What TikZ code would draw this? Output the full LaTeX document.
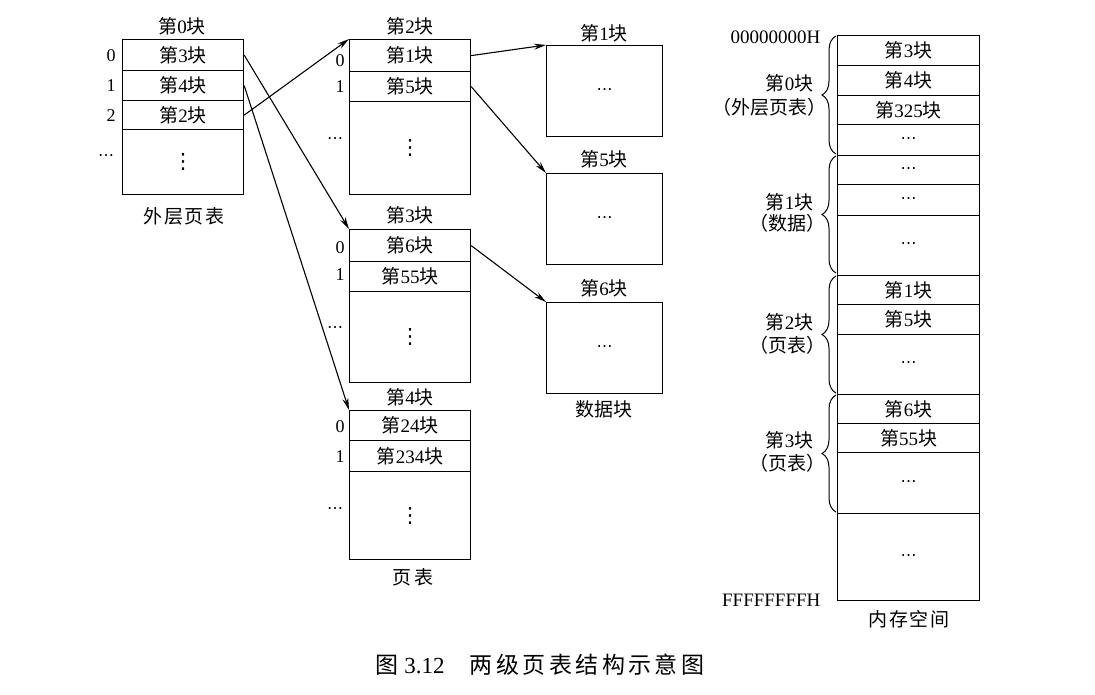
\documentclass[tikz,border=0pt]{standalone}
\usepackage{fontspec}
\setmainfont{Liberation Serif}
\newfontfamily\cjk{Noto Sans CJK SC}
\newfontfamily\cjkw[LetterSpace=10]{Noto Sans CJK SC}
\newfontfamily\cjkc[LetterSpace=15]{Noto Sans CJK SC}
\newfontfamily\sym{DejaVu Sans}
\usetikzlibrary{arrows.meta,decorations.pathreplacing}
% "第<n>块" with CJK glyphs and a serif numeral
\newcommand\blk[1]{{\cjk 第}#1{\cjk 块}}
\newcommand\hdots{{\sym ⋯}}
\newcommand\vdts{{\sym ⋮}}

\begin{document}
\begin{tikzpicture}[x=1pt,y=-1pt,line width=1.2pt,
  every node/.style={inner sep=0pt, font=\fontsize{19}{21}\selectfont},
  cell/.style={draw, anchor=north west, minimum width=121pt, minimum height=#1},
  dcell/.style={draw, anchor=north west, minimum width=116pt, minimum height=91pt},
  mcell/.style={draw, anchor=north west, minimum width=142pt, minimum height=#1},
  idx/.style={font=\fontsize{18}{20}\selectfont},
  dots/.style={font=\fontsize{16}{18}\selectfont},
  vd/.style={font=\fontsize{21}{23}\selectfont},
  link/.style={-{Stealth[length=12pt,width=6pt]}, line width=1.1pt},
  memb/.style={decorate, decoration={brace, amplitude=14pt}, line width=1pt},
  lbl/.style={anchor=east},
]
\useasboundingbox (0,0) rectangle (1095,694);

% ---------- outer page table (block 0)
\node (t0) at (182,26) {\blk{0}};
\node[cell=31pt] (o0) at (122,39) {\blk{3}};
\node[cell=30pt] (o1) at (122,70) {\blk{4}};
\node[cell=29pt] (o2) at (122,100) {\blk{2}};
\node[cell=65pt,vd] (o3) at (122,129) {\vdts};
\node[idx] (oi0) at (111,56) {0};
\node[idx] (oi1) at (111,86) {1};
\node[idx] (oi2) at (111,116) {2};
\node[idx,dots] (oi3) at (106,158) {\hdots};
\node (tout) at (184,216) {\cjkw 外层页表};

% ---------- page table in block 2
\node (t2) at (410,26) {\blk{2}};
\node[cell=32pt] (p20) at (349,39) {\blk{1}};
\node[cell=30pt] (p21) at (349,71) {\blk{5}};
\node[cell=93pt,vd] (p22) at (349,101) {\vdts};
\node[idx] (p2i0) at (340,61) {0};
\node[idx] (p2i1) at (340,87) {1};
\node[dots] (p2i2) at (335,141) {\hdots};

% ---------- page table in block 3
\node (t3) at (410,215) {\blk{3}};
\node[cell=32pt] (p30) at (349,229) {\blk{6}};
\node[cell=30pt] (p31) at (349,261) {\blk{55}};
\node[cell=91pt,vd] (p32) at (349,291) {\vdts};
\node[idx] (p3i0) at (340,248) {0};
\node[idx] (p3i1) at (340,275) {1};
\node[dots] (p3i2) at (335,330) {\hdots};

% ---------- page table in block 4
\node (t4) at (410,397) {\blk{4}};
\node[cell=30pt] (p40) at (349,410) {\blk{24}};
\node[cell=31pt] (p41) at (349,440) {\blk{234}};
\node[cell=88pt,vd] (p42) at (349,471) {\vdts};
\node[idx] (p4i0) at (340,427) {0};
\node[idx] (p4i1) at (340,457) {1};
\node[dots] (p4i2) at (335,511) {\hdots};
\node (tpt) at (413,577) {\cjkc 页表};

% ---------- data blocks
\node (td1) at (604,33) {\blk{1}};
\node[dcell,dots] (d1) at (546,45) {\hdots};
\node (td5) at (604,159) {\blk{5}};
\node[dcell,dots] (d5) at (546,173) {\hdots};
\node (td6) at (604,288) {\blk{6}};
\node[dcell,dots] (d6) at (546,302) {\hdots};
\node (tdata) at (604,409) {\cjk 数据块};

% ---------- links
\draw[link] (o0.east) -- (p30.north west);
\draw[link] (o1.east) -- (p40.north west);
\draw[link] (o2.east) -- (p20.north west);
\draw[link] (p20.east) -- (d1.north west);
\draw[link] (p21.east) -- (d5.north west);
\draw[link] (p30.east) -- (d6.north west);

% ---------- physical memory
\node[mcell=30pt] (m1) at (837,35) {\blk{3}};
\node[mcell=30pt] (m2) at (837,65) {\blk{4}};
\node[mcell=29pt] (m3) at (837,95) {\blk{325}};
\node[mcell=31pt,dots] (m4) at (837,124) {\hdots};
\node[mcell=29pt,dots] (m5) at (837,155) {\hdots};
\node[mcell=31pt,dots] (m6) at (837,184) {\hdots};
\node[mcell=60pt,dots] (m7) at (837,215) {\hdots};
\node[mcell=29pt] (m8) at (837,275) {\blk{1}};
\node[mcell=30pt] (m9) at (837,304) {\blk{5}};
\node[mcell=60pt,dots] (m10) at (837,334) {\hdots};
\node[mcell=29pt] (m11) at (837,394) {\blk{6}};
\node[mcell=29pt] (m12) at (837,423) {\blk{55}};
\node[mcell=61pt,dots] (m13) at (837,452) {\hdots};
\node[mcell=87pt,dots] (m14) at (837,513) {\hdots};

\draw[memb] (836,154) -- (836,36);
\draw[memb] (836,273) -- (836,156);
\draw[memb] (836,393) -- (836,276);
\draw[memb] (836,512) -- (836,395);

\node[lbl] (b0a) at (814,83) {\blk{0}};
\node[lbl] (b0b) at (827,107) {\cjk （外层页表）};
\node[lbl] (b1a) at (814,202) {\blk{1}};
\node[lbl] (b1b) at (826,223) {\cjk （数据）};
\node[lbl] (b2a) at (814,322) {\blk{2}};
\node[lbl] (b2b) at (826,345) {\cjk （页表）};
\node[lbl] (b3a) at (814,440) {\blk{3}};
\node[lbl] (b3b) at (826,463) {\cjk （页表）};

\node[lbl] (a0) at (821,37) {00000000H};
\node[lbl] (a1) at (821,600) {FFFFFFFFH};
\node (tmem) at (909,619) {\cjkw 内存空间};

% ---------- caption
\node (cap) at (540,665) {\fontsize{23}{25}\selectfont{\cjk 图}~3.12\hspace{1.1em}{\cjkc 两级页表结构示意图}};
\end{tikzpicture}
\end{document}
